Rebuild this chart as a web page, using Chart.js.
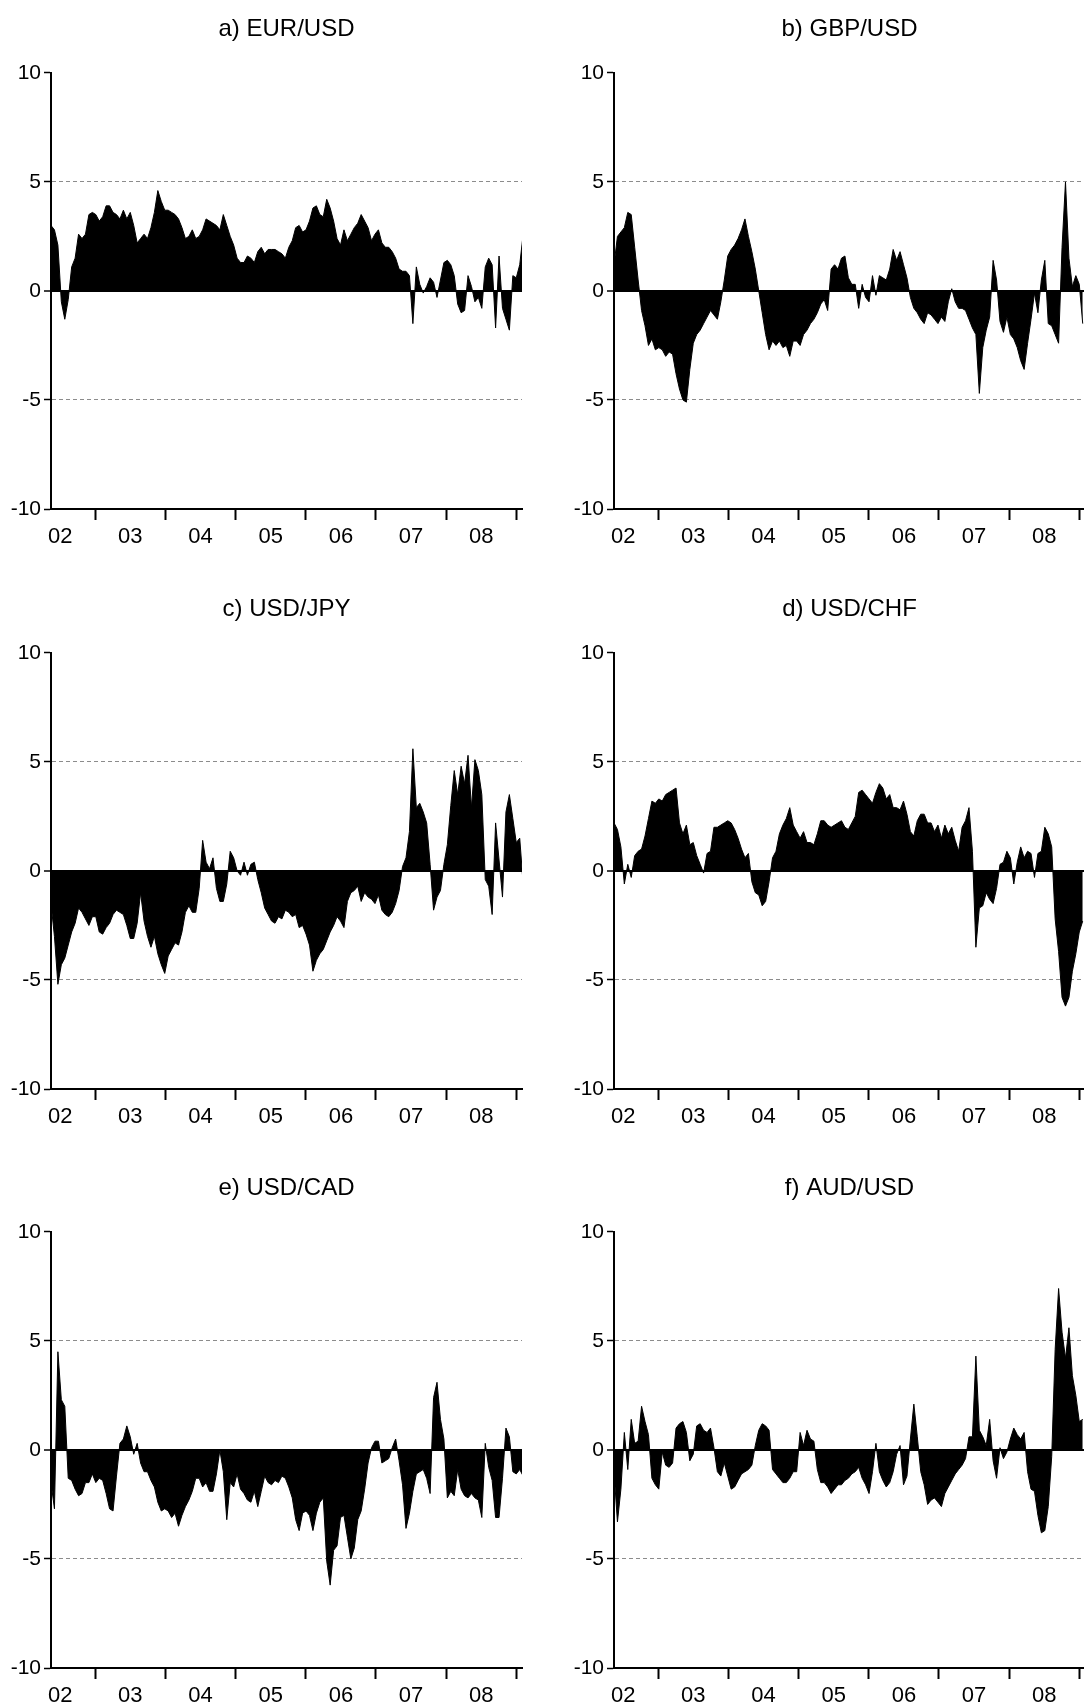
<!DOCTYPE html>
<html>
<head>
<meta charset="utf-8">
<script src="https://cdn.jsdelivr.net/npm/chart.js@4.4.1/dist/chart.umd.min.js"></script>
<style>
  html, body { margin: 0; padding: 0; background: #fff; }
  #page { position: relative; width: 1084px; height: 1705px; overflow: hidden; background: #fff; }
  canvas { position: absolute; }
</style>
</head>
<body>
<div id="page">
  <canvas id="c0" width="542" height="580" style="left:0px;top:0px"></canvas>
  <canvas id="c1" width="542" height="580" style="left:563px;top:0px"></canvas>
  <canvas id="c2" width="542" height="580" style="left:0px;top:580px"></canvas>
  <canvas id="c3" width="542" height="580" style="left:563px;top:580px"></canvas>
  <canvas id="c4" width="542" height="580" style="left:0px;top:1159px"></canvas>
  <canvas id="c5" width="542" height="580" style="left:563px;top:1159px"></canvas>
</div>
<script>
// time axis: first observation, end of axis, spacing of the samples (in years)
const START = 2002.37;
const END = 2009.08;
const STEP = 0.0491;

// year boundaries (tick marks) and year labels (centred in each year)
const yearMarks = [2003, 2004, 2005, 2006, 2007, 2008, 2009];
const labelPos = [2002.5, 2003.5, 2004.5, 2005.5, 2006.5, 2007.5, 2008.5];
const yearLabels = ["02", "03", "04", "05", "06", "07", "08"];
const yTicks = [-10, -5, 0, 5, 10];

const titles = ["a) EUR/USD", "b) GBP/USD", "c) USD/JPY", "d) USD/CHF", "e) USD/CAD", "f) AUD/USD"];

// series
const eurUsd = [3.0,2.8,2.1,-0.5,-1.3,-0.4,1.1,1.5,2.6,2.4,
  2.6,3.5,3.6,3.5,3.2,3.4,3.9,3.9,3.6,3.5,
  3.3,3.7,3.3,3.6,3.0,2.2,2.4,2.6,2.4,2.9,
  3.6,4.6,4.1,3.7,3.7,3.6,3.5,3.3,2.9,2.4,
  2.5,2.8,2.4,2.5,2.8,3.3,3.2,3.1,3.0,2.8,
  3.5,3.0,2.5,2.1,1.5,1.3,1.3,1.6,1.5,1.3,
  1.8,2.0,1.7,1.9,1.9,1.9,1.8,1.7,1.5,2.0,
  2.3,2.9,3.0,2.7,2.8,3.2,3.8,3.9,3.5,3.4,
  4.2,3.8,3.2,2.4,2.1,2.8,2.3,2.6,2.9,3.1,
  3.5,3.2,2.9,2.3,2.6,2.8,2.2,2.0,2.0,1.8,
  1.5,1.0,0.9,0.9,0.7,-1.5,1.1,0.3,-0.1,0.2,
  0.6,0.4,-0.3,0.5,1.3,1.4,1.2,0.7,-0.6,-1.0,
  -0.9,0.7,0.2,-0.5,-0.3,-0.8,1.1,1.5,1.2,-1.7,
  1.6,-0.8,-1.3,-1.8,0.7,0.6,1.2,2.6];

const gbpUsd = [1.2,2.5,2.7,2.9,3.6,3.5,2.0,0.5,-0.9,-1.6,
  -2.5,-2.2,-2.7,-2.6,-2.7,-3.0,-2.8,-2.9,-3.8,-4.5,
  -5.0,-5.1,-3.6,-2.4,-2.0,-1.8,-1.5,-1.2,-0.9,-1.1,
  -1.3,-0.5,0.5,1.6,1.9,2.1,2.4,2.8,3.3,2.5,
  1.8,1.0,0.0,-1.0,-2.0,-2.7,-2.3,-2.5,-2.3,-2.6,
  -2.5,-3.0,-2.3,-2.3,-2.5,-2.0,-1.8,-1.5,-1.3,-1.0,
  -0.6,-0.4,-0.9,1.0,1.2,1.0,1.5,1.6,0.6,0.3,
  0.3,-0.8,0.3,-0.3,-0.5,0.7,-0.2,0.7,0.6,0.5,
  1.0,1.9,1.4,1.8,1.2,0.6,-0.3,-0.8,-1.0,-1.3,
  -1.5,-1.0,-1.1,-1.3,-1.5,-1.2,-1.4,-0.5,0.1,-0.5,
  -0.8,-0.8,-0.9,-1.3,-1.7,-2.0,-4.7,-2.6,-1.8,-1.2,
  1.4,0.5,-1.4,-1.9,-1.2,-2.0,-2.2,-2.6,-3.2,-3.6,
  -2.4,-1.3,-0.1,-1.0,0.5,1.4,-1.5,-1.6,-2.0,-2.4,
  2.0,5.0,1.5,0.2,0.7,0.3,-1.5];

const usdJpy = [-1.5,-3.0,-5.2,-4.3,-4.0,-3.4,-2.8,-2.4,-1.7,-1.9,
  -2.2,-2.5,-2.1,-2.1,-2.8,-2.9,-2.6,-2.4,-2.0,-1.8,
  -1.9,-2.0,-2.5,-3.1,-3.1,-2.4,-1.0,-2.3,-3.0,-3.5,
  -3.0,-3.8,-4.3,-4.7,-3.9,-3.6,-3.3,-3.4,-2.8,-1.9,
  -1.6,-1.9,-1.9,-0.8,1.4,0.4,0.1,0.6,-0.8,-1.4,
  -1.4,-0.6,0.9,0.6,0.0,-0.2,0.4,-0.2,0.3,0.4,
  -0.4,-1.0,-1.7,-2.0,-2.3,-2.4,-2.1,-2.2,-1.8,-1.9,
  -2.1,-2.0,-2.6,-2.5,-2.9,-3.4,-4.6,-4.1,-3.8,-3.6,
  -3.2,-2.8,-2.5,-2.1,-2.3,-2.6,-1.4,-1.0,-0.9,-0.7,
  -1.4,-1.0,-1.2,-1.3,-1.5,-1.1,-1.8,-2.0,-2.1,-1.9,
  -1.5,-0.9,0.2,0.6,1.8,5.6,2.9,3.1,2.7,2.2,
  0.3,-1.8,-1.2,-0.9,0.3,1.2,3.0,4.6,3.5,4.8,
  4.0,5.3,2.9,5.1,4.6,3.5,-0.4,-0.7,-2.0,2.2,
  0.5,-1.2,2.7,3.5,2.4,1.3,1.5,-0.6];

const usdChf = [2.2,1.9,1.1,-0.6,0.3,-0.3,0.7,0.9,1.0,1.6,
  2.4,3.2,3.1,3.3,3.2,3.5,3.6,3.7,3.8,2.2,
  1.7,2.1,1.2,1.3,0.7,0.3,-0.1,0.8,0.9,2.0,
  2.0,2.1,2.2,2.3,2.2,1.9,1.5,1.0,0.6,0.8,
  -0.5,-1.0,-1.1,-1.6,-1.4,-0.5,0.6,0.9,1.7,2.1,
  2.4,2.9,2.1,1.8,1.5,1.8,1.3,1.3,1.2,1.7,
  2.3,2.3,2.1,2.0,2.1,2.2,2.3,2.0,1.9,2.2,
  2.5,3.6,3.7,3.5,3.3,3.1,3.6,4.0,3.8,3.3,
  3.5,2.9,2.9,2.8,3.2,2.6,1.8,1.6,2.3,2.6,
  2.6,2.2,2.2,1.8,2.1,1.5,2.1,1.7,2.0,1.4,
  0.9,2.0,2.3,2.9,0.9,-3.5,-1.7,-1.6,-1.0,-1.3,
  -1.5,-0.8,0.3,0.4,0.9,0.6,-0.6,0.4,1.1,0.6,
  0.9,0.8,-0.3,0.8,0.9,2.0,1.7,1.1,-2.2,-3.7,
  -5.8,-6.2,-5.8,-4.6,-3.8,-2.8,-2.3];

const usdCad = [-1.5,-2.7,4.5,2.3,2.0,-1.3,-1.4,-1.8,-2.1,-2.0,
  -1.5,-1.5,-1.1,-1.5,-1.3,-1.4,-2.0,-2.7,-2.8,-1.2,
  0.3,0.5,1.1,0.6,-0.2,0.3,-0.6,-1.0,-1.0,-1.4,
  -1.7,-2.4,-2.8,-2.7,-2.8,-3.1,-2.9,-3.5,-3.0,-2.6,
  -2.3,-1.9,-1.3,-1.3,-1.7,-1.5,-1.9,-1.9,-1.1,0.0,
  -1.0,-3.2,-1.5,-1.7,-1.1,-1.8,-2.0,-2.3,-2.4,-1.9,
  -2.6,-1.9,-1.2,-1.5,-1.6,-1.4,-1.5,-1.2,-1.3,-1.7,
  -2.2,-3.2,-3.7,-2.9,-2.8,-3.0,-3.7,-2.9,-2.4,-2.2,
  -5.1,-6.2,-4.6,-4.4,-3.1,-3.0,-4.0,-5.0,-4.5,-3.2,
  -2.8,-1.8,-0.6,0.1,0.4,0.4,-0.6,-0.5,-0.4,0.1,
  0.5,-0.5,-1.6,-3.6,-2.9,-1.9,-1.1,-1.0,-0.9,-1.3,
  -2.0,2.4,3.1,1.4,0.5,-2.2,-1.9,-2.1,-0.9,-1.8,
  -2.1,-2.2,-2.0,-2.2,-2.3,-3.1,0.3,-0.8,-1.4,-3.1,
  -3.1,-1.3,1.0,0.6,-1.0,-1.1,-0.9,-1.2];

const audUsd = [-1.0,-3.3,-1.8,0.8,-0.9,1.4,0.3,0.4,2.0,1.3,
  0.7,-1.3,-1.6,-1.8,-0.1,-0.7,-0.8,-0.6,1.0,1.2,
  1.3,0.8,-0.5,-0.2,1.1,1.2,0.9,0.8,1.0,0.1,
  -1.0,-1.2,-0.6,-1.2,-1.8,-1.7,-1.4,-1.1,-1.0,-0.9,
  -0.7,0.2,0.9,1.2,1.1,0.9,-0.9,-1.1,-1.3,-1.5,
  -1.5,-1.3,-1.0,-1.0,0.8,0.2,0.9,0.5,0.4,-0.9,
  -1.5,-1.5,-1.7,-2.0,-1.8,-1.6,-1.6,-1.4,-1.3,-1.1,
  -1.0,-0.8,-1.3,-1.6,-2.0,-1.0,0.3,-1.0,-1.4,-1.7,
  -1.5,-1.0,-0.2,0.2,-1.6,-1.2,0.5,2.1,0.6,-1.0,
  -1.6,-2.5,-2.3,-2.2,-2.4,-2.6,-2.0,-1.7,-1.4,-1.1,
  -0.9,-0.7,-0.4,0.6,0.6,4.3,0.9,0.6,0.2,1.4,
  -0.5,-1.3,0.1,-0.4,-0.1,0.5,1.0,0.7,0.5,0.8,
  -1.0,-1.8,-1.9,-3.0,-3.8,-3.7,-2.6,-0.3,4.6,7.4,
  5.4,4.2,5.6,3.4,2.5,1.3,1.4];

const FONT = "'Liberation Sans', Arial, Helvetica, sans-serif";

function isMark(v) {
  return yearMarks.includes(v);
}

function makeChart(id, title, values) {
  const points = values.map((v, i) => ({ x: START + i * STEP, y: v }));
  return new Chart(document.getElementById(id), {
    type: 'line',
    data: {
      datasets: [{
        data: points,
        borderColor: '#000',
        backgroundColor: '#000',
        borderWidth: 1,
        pointRadius: 0,
        tension: 0,
        fill: 'origin'
      }]
    },
    options: {
      responsive: false,
      animation: false,
      devicePixelRatio: 1,
      layout: { padding: { left: 0, right: 20, top: 0, bottom: 21 } },
      plugins: {
        legend: { display: false },
        tooltip: { enabled: false },
        title: {
          display: true,
          text: title,
          color: '#000',
          fullSize: false,
          font: { family: FONT, size: 24, weight: 'normal' },
          padding: { top: 15, bottom: 29 }
        }
      },
      scales: {
        x: {
          type: 'linear',
          min: START,
          max: END,
          afterBuildTicks: s => { s.ticks = yearMarks.concat(labelPos).sort((a, b) => a - b).map(v => ({ value: v })); },
          afterFit: s => { s.height = 50; },
          ticks: {
            autoSkip: false,
            maxRotation: 0,
            padding: 4,
            color: '#000',
            font: { family: FONT, size: 22 },
            callback: v => {
              const k = labelPos.indexOf(v);
              return k >= 0 ? yearLabels[k] : '';
            }
          },
          grid: {
            drawOnChartArea: false,
            drawTicks: true,
            tickLength: 11,
            tickWidth: 2,
            tickColor: c => (c.tick && isMark(c.tick.value)) ? '#000' : 'rgba(0,0,0,0)'
          },
          border: { display: true, color: '#000', width: 2 }
        },
        y: {
          min: -10,
          max: 10,
          afterBuildTicks: s => { s.ticks = yTicks.map(v => ({ value: v })); },
          afterFit: s => { s.width = 51; },
          ticks: {
            padding: 3,
            color: '#000',
            font: { family: FONT, size: 21 }
          },
          grid: {
            drawTicks: true,
            tickLength: 7,
            tickWidth: 1.5,
            tickColor: '#000',
            color: c => {
              const v = c.tick ? c.tick.value : null;
              if (v === 0) return '#000';
              if (v === 5 || v === -5) return '#8c8c8c';
              return 'rgba(0,0,0,0)';
            },
            lineWidth: c => (c.tick && c.tick.value === 0) ? 2 : 1
          },
          border: {
            display: true,
            color: '#000',
            width: 2,
            dash: c => (c.tick && c.tick.value === 0) ? [] : [4, 3]
          }
        }
      }
    }
  });
}

const series = [eurUsd, gbpUsd, usdJpy, usdChf, usdCad, audUsd];
series.forEach((s, i) => makeChart('c' + i, titles[i], s));
</script>
</body>
</html>
